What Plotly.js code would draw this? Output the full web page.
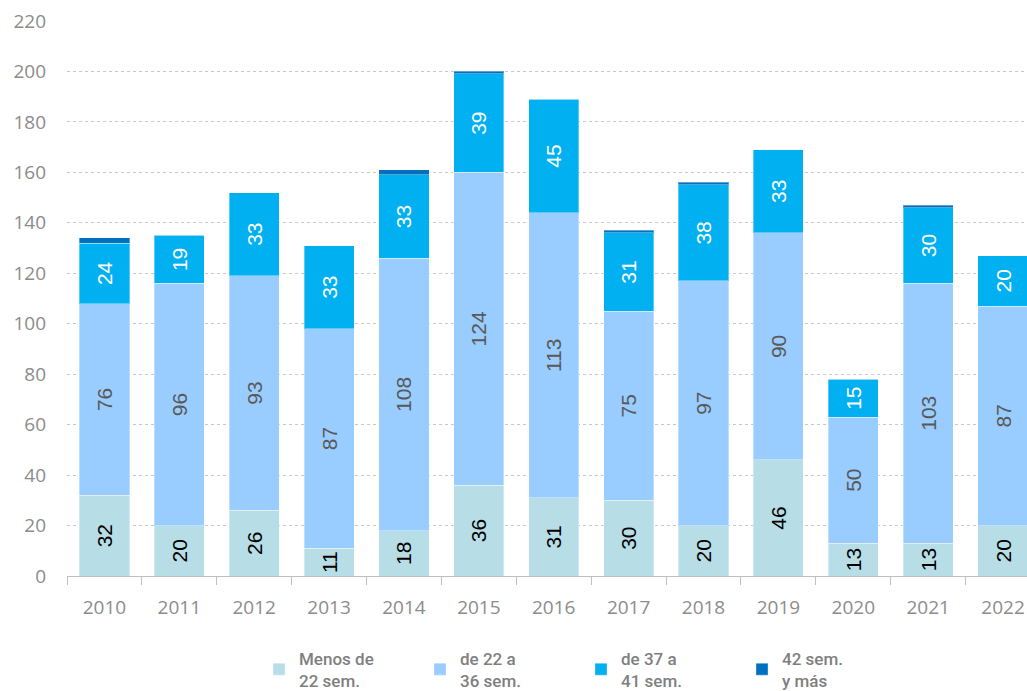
<!DOCTYPE html>
<html>
<head>
<meta charset="utf-8">
<script src="https://cdn.plot.ly/plotly-3.0.1.min.js"></script>
<style>html,body{margin:0;padding:0;background:#fff;}#chart{width:1027px;height:691px;}</style>
</head>
<body>
<div id="chart"></div>
<script>
const years = ["2010","2011","2012","2013","2014","2015","2016","2017","2018","2019","2020","2021","2022"];
const menos22 = [32,20,26,11,18,36,31,30,20,46,13,13,20];
const de22a36 = [76,96,93,87,108,124,113,75,97,90,50,103,87];
const de37a41 = [24,19,33,33,33,39,45,31,38,33,15,30,20];
const mas42 = [2,0,0,0,2,1,0,1,1,0,0,1,0];
const seriesNames = ["Menos de<br>22 sem.","de 22 a<br>36 sem.","de 37 a<br>41 sem.","42 sem.<br>y más"];
const seriesColors = ["#b7dde6","#99ccff","#00b0f0","#0070c0"];
const textColors = ["#000000","#595959","#ffffff","#ffffff"];

const series = [menos22, de22a36, de37a41, mas42];
const traces = series.map((vals, i) => ({
  type: 'bar',
  name: seriesNames[i],
  x: years,
  y: vals,
  marker: {color: seriesColors[i], line: {color: 'rgba(255,255,255,0.35)', width: 1}},
  text: i < 3 ? vals.map(String) : vals.map(() => ''),
  textposition: i < 3 ? 'inside' : 'none',
  insidetextanchor: 'middle',
  textangle: -90,
  constraintext: 'none',
  textfont: {family: 'Liberation Sans, Arial, sans-serif', size: 21, color: textColors[i]},
  hoverinfo: 'x+y+name'
}));

const layout = {
  width: 1027,
  height: 691,
  barmode: 'stack',
  bargap: 0.33,
  paper_bgcolor: '#ffffff',
  plot_bgcolor: '#ffffff',
  margin: {l: 67, r: 0, t: 21, b: 115, autoexpand: false},
  showlegend: true,
  legend: {
    orientation: 'h',
    x: 0.2,
    xanchor: 'left',
    xref: 'paper',
    yref: 'container',
    y: 0.073,
    yanchor: 'top',
    traceorder: 'normal',
    entrywidth: 116,
    entrywidthmode: 'pixels',
    font: {family: 'Roboto, sans-serif', size: 17, color: '#7f7f7f', weight: 500},
    itemwidth: 30
  },
  xaxis: {
    type: 'category',
    range: [-0.5, 12.32],
    showgrid: false,
    showline: true,
    linecolor: '#bfbfbf',
    linewidth: 1,
    ticks: 'outside',
    tickson: 'boundaries',
    ticklen: 8,
    tickcolor: '#bfbfbf',
    ticklabelstandoff: 14,
    tickfont: {family: 'Open Sans, sans-serif', size: 19, color: '#8c8c8c'},
    fixedrange: true
  },
  yaxis: {
    range: [0, 220],
    tickvals: [0,20,40,60,80,100,120,140,160,180,200,220],
    showgrid: true,
    gridcolor: '#c8c8c8',
    griddash: 'dot',
    gridwidth: 1,
    zeroline: false,
    showline: false,
    ticks: '',
    ticklabelstandoff: 20,
    tickfont: {family: 'Open Sans, sans-serif', size: 19, color: '#8c8c8c'},
    fixedrange: true
  }
};

Plotly.newPlot('chart', traces, layout, {displayModeBar: false, responsive: false});
</script>
</body>
</html>
